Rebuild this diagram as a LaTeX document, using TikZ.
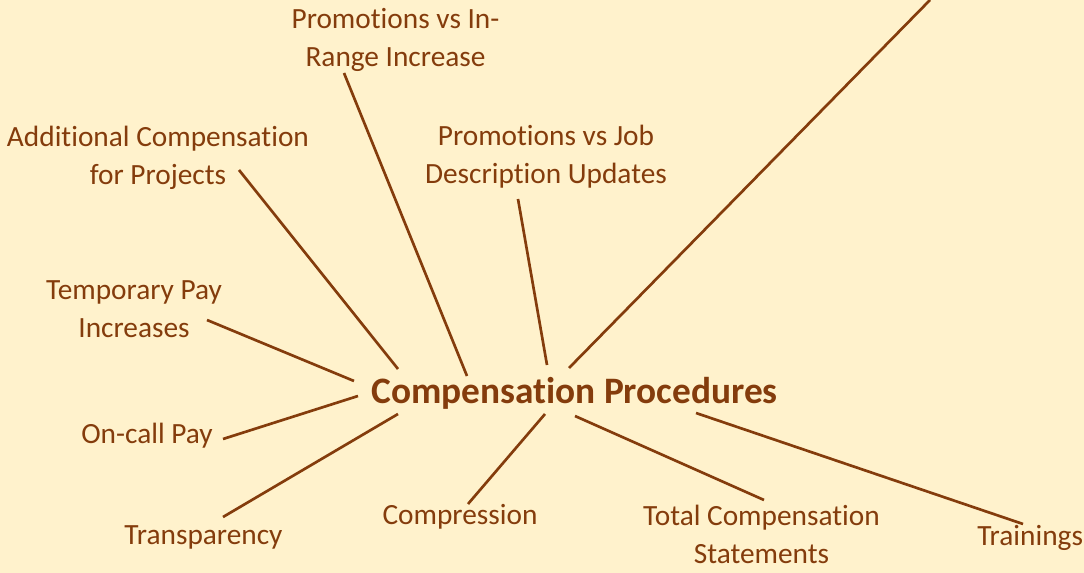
\documentclass[tikz,border=0pt]{standalone}
\usepackage{fontspec}
\setmainfont[Ligatures=NoCommon]{Carlito}
\definecolor{bgcream}{HTML}{FFF2CC}
\definecolor{brownink}{HTML}{843C0C}
\begin{document}
\begin{tikzpicture}[x=0.75pt,y=-0.75pt,
  lbl/.style={text=brownink,font=\fontsize{22}{28.5}\selectfont,align=center,inner sep=0pt,anchor=base},
  hubstyle/.style={text=brownink,font=\fontsize{28}{34}\selectfont\bfseries,inner sep=0pt,anchor=base},
  link/.style={draw=brownink,line width=2pt}]
\fill[bgcream] (0,0) rectangle (1084,573);
\useasboundingbox (0,0) rectangle (1084,573);
% nodes (anchor base = baseline of the last line)
\node[hubstyle] (hub) at (574.5,403) {Compensation Procedures};
\node[lbl] (pin) at (395.5,67) {Promotions vs In-\\Range Increase};
\node[lbl] (add) at (158,185) {Additional Compensation\\for Projects};
\node[lbl] (job) at (546,184) {Promotions vs Job\\Description Updates};
\node[lbl] (temp) at (134,338) {Temporary Pay\\Increases};
\node[lbl] (oncall) at (147,443) {On-call Pay};
\node[lbl] (transp) at (203.5,544) {Transparency};
\node[lbl] (compr) at (460,524) {Compression};
\node[lbl] (total) at (761.5,563) {Total Compensation\\Statements};
\node[lbl,anchor=base west] (train) at (977,545) {Trainings};
% connector end points
\coordinate (hpin) at (467,376);   \coordinate (epin) at (344,73);
\coordinate (hadd) at (398,369);   \coordinate (eadd) at (239,170);
\coordinate (hjob) at (547,365);   \coordinate (ejob) at (518,199);
\coordinate (htemp) at (354,381);  \coordinate (etemp) at (207,320);
\coordinate (honc) at (358,396);   \coordinate (eonc) at (223,439);
\coordinate (htra) at (398,414);   \coordinate (etra) at (223,517);
\coordinate (hcom) at (545,414);   \coordinate (ecom) at (468,504);
\coordinate (htot) at (575,416);   \coordinate (etot) at (764,500);
\coordinate (htrn) at (696,413);   \coordinate (etrn) at (1023,524);
\coordinate (hout) at (569,368);   \coordinate (eout) at (930,0);
% connectors
\draw[link] (hpin) -- (epin);
\draw[link] (hadd) -- (eadd);
\draw[link] (hjob) -- (ejob);
\draw[link] (htemp) -- (etemp);
\draw[link] (honc) -- (eonc);
\draw[link] (htra) -- (etra);
\draw[link] (hcom) -- (ecom);
\draw[link] (htot) -- (etot);
\draw[link] (htrn) -- (etrn);
\draw[link] (hout) -- (eout);
\end{tikzpicture}
\end{document}
